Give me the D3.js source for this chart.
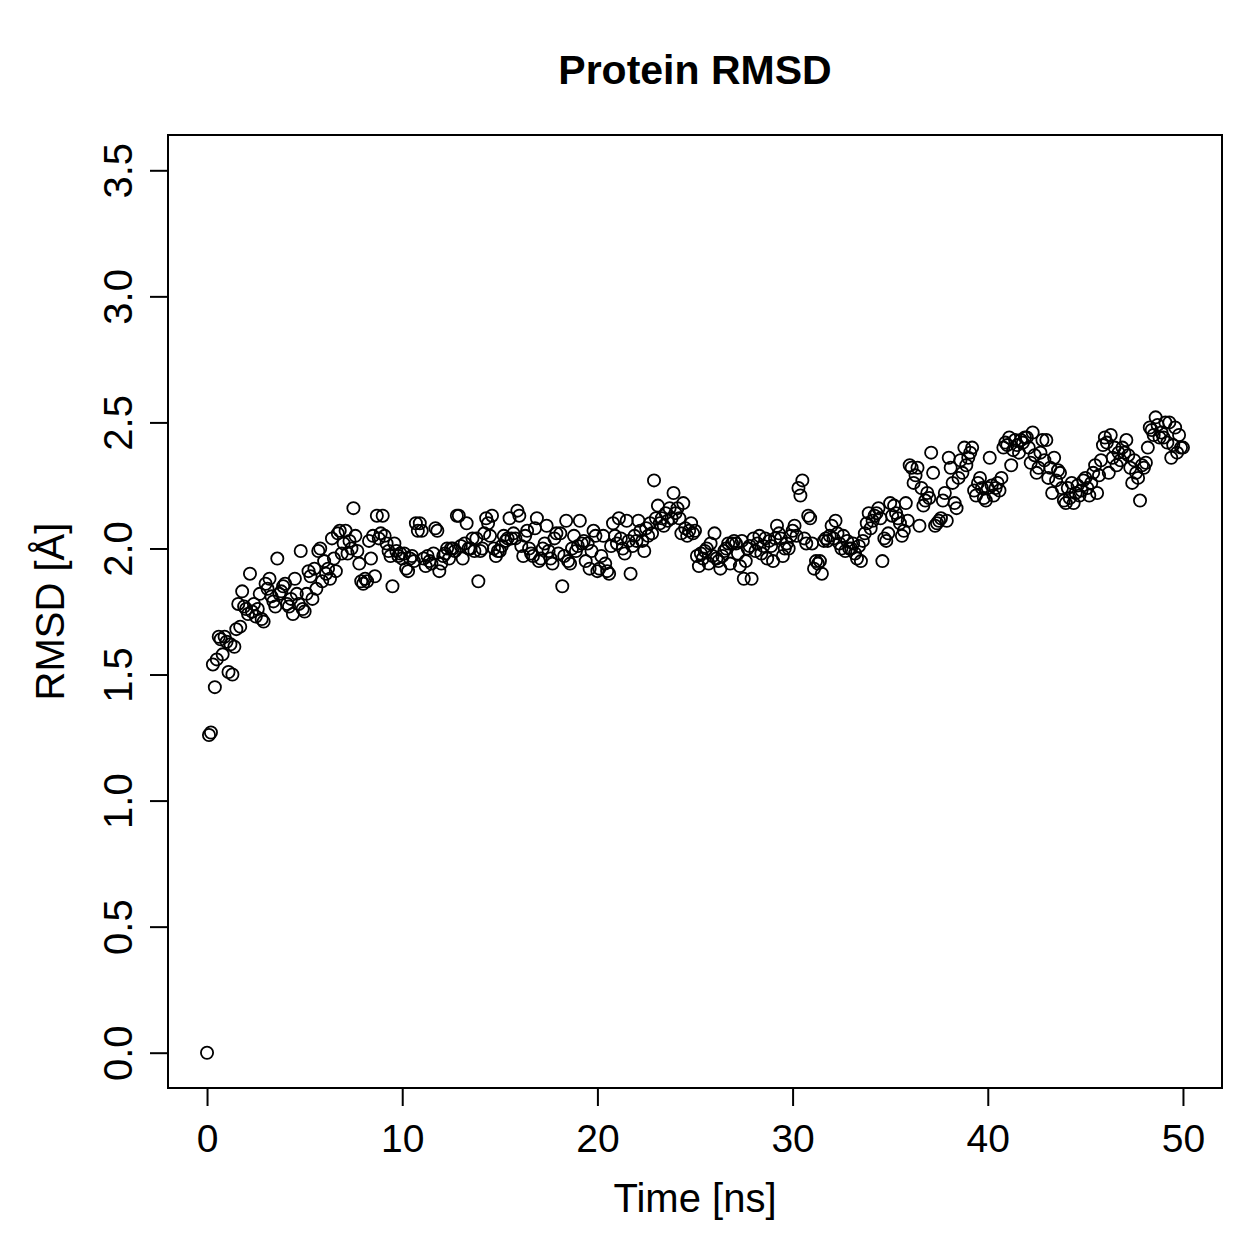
<!DOCTYPE html>
<meta charset="utf-8">
<style>
body { margin: 0; background: #fff; }
svg { display: block; }
text { font-family: "Liberation Sans", Arial, sans-serif; fill: #000; }
.axis path, .axis line { stroke: #000; stroke-width: 2px; }
.pt { fill: none; stroke: #000; stroke-width: 1.8px; }
</style>
<svg width="1259" height="1259"></svg>
<script src="https://d3js.org/d3.v7.min.js"></script>
<script>

// RMSD sampled every 0.1 ns, one row per ns (t = k.0 ... k.9), plus t = 50.0
var rmsdRows = [
  [0.00, 1.26, 1.27, 1.54, 1.45, 1.56, 1.65, 1.64, 1.58, 1.65],
  [1.63, 1.51, 1.62, 1.50, 1.61, 1.68, 1.78, 1.69, 1.83, 1.77],
  [1.76, 1.74, 1.90, 1.75, 1.78, 1.73, 1.76, 1.82, 1.72, 1.71],
  [1.86, 1.84, 1.88, 1.81, 1.79, 1.77, 1.96, 1.82, 1.83, 1.85],
  [1.86, 1.78, 1.77, 1.80, 1.74, 1.88, 1.82, 1.78, 1.99, 1.76],
  [1.75, 1.82, 1.91, 1.89, 1.80, 1.92, 1.84, 1.99, 2.00, 1.87],
  [1.95, 1.90, 1.92, 1.88, 2.04, 1.96, 1.91, 2.06, 2.07, 1.98],
  [2.02, 2.07, 1.98, 2.03, 2.00, 2.16, 2.05, 1.99, 1.94, 1.87],
  [1.86, 1.88, 1.87, 2.03, 1.96, 2.05, 1.89, 2.13, 2.04, 2.06],
  [2.13, 2.05, 2.02, 1.99, 1.97, 1.85, 2.02, 1.99, 1.97, 1.98],
  [1.96, 1.98, 1.92, 1.91, 1.96, 1.97, 1.95, 2.10, 2.07, 2.10],
  [2.07, 1.96, 1.93, 1.97, 1.95, 1.94, 1.98, 2.08, 2.07, 1.91],
  [1.94, 1.97, 1.98, 2.00, 1.96, 2.00, 2.00, 1.99, 2.13, 2.13],
  [2.01, 1.96, 2.02, 2.10, 2.00, 2.00, 2.04, 1.99, 2.04, 1.87],
  [1.99, 2.00, 2.06, 2.12, 2.10, 2.05, 2.13, 2.00, 1.97, 1.99],
  [1.99, 2.01, 2.05, 2.03, 2.04, 2.12, 2.04, 2.06, 2.04, 2.15],
  [2.13, 2.01, 1.97, 2.05, 2.07, 2.00, 1.98, 1.97, 2.08, 2.12],
  [1.95, 1.96, 2.00, 2.02, 2.09, 1.99, 1.96, 1.94, 2.04, 2.06],
  [1.98, 2.06, 1.85, 1.97, 2.11, 1.95, 1.94, 2.00, 2.05, 1.99],
  [2.01, 2.11, 2.02, 2.03, 1.95, 2.02, 1.92, 1.99, 2.07, 2.05],
  [1.91, 1.92, 1.97, 2.05, 1.94, 1.91, 1.90, 2.01, 2.10, 2.05],
  [2.02, 2.12, 2.04, 2.00, 1.98, 2.11, 2.03, 1.90, 2.01, 2.05],
  [2.03, 2.11, 2.07, 2.03, 1.99, 2.08, 2.05, 2.10, 2.06, 2.27],
  [2.12, 2.17, 2.10, 2.12, 2.09, 2.14, 2.11, 2.16, 2.12, 2.22],
  [2.14, 2.16, 2.12, 2.06, 2.18, 2.08, 2.05, 2.07, 2.10, 2.06],
  [2.07, 1.97, 1.93, 1.98, 1.96, 1.99, 2.00, 1.94, 2.02, 1.97],
  [2.06, 1.96, 1.95, 1.92, 1.97, 1.99, 2.00, 2.02, 1.94, 2.02],
  [2.03, 2.02, 1.98, 1.93, 2.03, 1.88, 1.95, 2.00, 2.01, 1.88],
  [2.04, 1.99, 2.02, 2.05, 1.98, 2.01, 2.04, 1.96, 2.03, 2.01],
  [1.95, 2.04, 2.09, 2.06, 2.04, 1.97, 2.00, 2.02, 2.00, 2.05],
  [2.07, 2.09, 2.05, 2.24, 2.21, 2.27, 2.04, 2.02, 2.13, 2.12],
  [2.02, 1.92, 1.95, 1.94, 1.95, 1.90, 2.03, 2.04, 2.03, 2.05],
  [2.09, 2.04, 2.11, 2.06, 2.02, 2.00, 2.05, 1.99, 2.03, 2.00],
  [2.00, 2.02, 1.98, 1.96, 2.01, 1.95, 2.03, 2.06, 2.10, 2.14],
  [2.08, 2.11, 2.13, 2.14, 2.16, 2.12, 1.95, 2.04, 2.03, 2.06],
  [2.18, 2.13, 2.17, 2.14, 2.12, 2.10, 2.05, 2.07, 2.18, 2.11],
  [2.33, 2.32, 2.26, 2.29, 2.32, 2.09, 2.24, 2.17, 2.19, 2.22],
  [2.20, 2.38, 2.30, 2.09, 2.10, 2.11, 2.12, 2.19, 2.22, 2.11],
  [2.36, 2.32, 2.26, 2.18, 2.16, 2.28, 2.35, 2.30, 2.40, 2.33],
  [2.36, 2.38, 2.40, 2.23, 2.21, 2.26, 2.28, 2.24, 2.20, 2.19],
  [2.24, 2.36, 2.25, 2.21, 2.24, 2.26, 2.23, 2.28, 2.40, 2.42],
  [2.41, 2.44, 2.33, 2.39, 2.43, 2.41, 2.38, 2.43, 2.42, 2.44],
  [2.44, 2.40, 2.34, 2.46, 2.37, 2.30, 2.32, 2.38, 2.43, 2.35],
  [2.43, 2.28, 2.32, 2.22, 2.36, 2.27, 2.31, 2.30, 2.24, 2.19],
  [2.18, 2.24, 2.20, 2.26, 2.18, 2.22, 2.25, 2.21, 2.23, 2.27],
  [2.28, 2.24, 2.21, 2.26, 2.30, 2.33, 2.22, 2.29, 2.35, 2.41],
  [2.44, 2.42, 2.30, 2.45, 2.36, 2.40, 2.33, 2.38, 2.35, 2.40],
  [2.38, 2.43, 2.37, 2.32, 2.26, 2.35, 2.30, 2.28, 2.19, 2.33],
  [2.32, 2.34, 2.40, 2.48, 2.47, 2.45, 2.52, 2.49, 2.44, 2.46],
  [2.44, 2.50, 2.42, 2.50, 2.36, 2.41, 2.48, 2.38, 2.45, 2.40]
];
var rmsdLast = 2.40;
var timeStep = 0.1;

var xTicks = [0, 10, 20, 30, 40, 50];
var yTicks = [0.0, 0.5, 1.0, 1.5, 2.0, 2.5, 3.0, 3.5];
var xLim = [0, 50], yLim = [0, 3.5];

var titleText = "Protein RMSD",
    xLabel = "Time [ns]",
    yLabel = "RMSD [Å]";

// flatten rows into points
var data = [];
rmsdRows.forEach(function(row, k) {
  row.forEach(function(v, j) {
    data.push({t: +(k + j * timeStep).toFixed(1), rmsd: v});
  });
});
data.push({t: 50, rmsd: rmsdLast});

var svg = d3.select("svg"),
    box = {left: 168, right: 1222, top: 135, bottom: 1088};

// R style 4% axis extension
function ext(lim) { var d = (lim[1] - lim[0]) * 0.04; return [lim[0] - d, lim[1] + d]; }

var x = d3.scaleLinear().domain(ext(xLim)).range([box.left, box.right]),
    y = d3.scaleLinear().domain(ext(yLim)).range([box.bottom, box.top]);

// plot box
svg.append("rect")
    .attr("x", box.left).attr("y", box.top)
    .attr("width", box.right - box.left).attr("height", box.bottom - box.top)
    .attr("fill", "none").attr("stroke", "#000").attr("stroke-width", 2);

// x axis
var gx = svg.append("g")
    .attr("class", "axis")
    .attr("transform", "translate(0," + box.bottom + ")")
    .call(d3.axisBottom(x).tickValues(xTicks).tickSize(18).tickSizeOuter(0).tickFormat(d3.format("d")));
gx.select(".domain").attr("d", "M" + x(xTicks[0]) + ",0H" + x(xTicks[xTicks.length - 1]));
gx.selectAll("text")
    .attr("y", 64).attr("dy", 0)
    .style("font-size", "39px");

// y axis
var gy = svg.append("g")
    .attr("class", "axis")
    .attr("transform", "translate(" + box.left + ",0)")
    .call(d3.axisLeft(y).tickValues(yTicks).tickSize(18).tickSizeOuter(0).tickFormat(d3.format(".1f")));
gy.select(".domain").attr("d", "M0," + y(yTicks[0]) + "V" + y(yTicks[yTicks.length - 1]));
gy.selectAll("text")
    .attr("x", 0).attr("y", 0).attr("dy", 0)
    .attr("text-anchor", "middle")
    .attr("transform", "translate(-36,0) rotate(-90)")
    .style("font-size", "40px");
svg.selectAll(".axis").attr("font-family", null).attr("font-size", null);

// points
svg.append("g").selectAll("circle")
    .data(data)
  .enter().append("circle")
    .attr("class", "pt")
    .attr("cx", function(d) { return x(d.t); })
    .attr("cy", function(d) { return y(d.rmsd); })
    .attr("r", 6.1);

// labels
svg.append("text")
    .attr("x", (box.left + box.right) / 2).attr("y", 84)
    .attr("text-anchor", "middle")
    .style("font-size", "41px").style("font-weight", "bold")
    .text(titleText);

svg.append("text")
    .attr("x", (box.left + box.right) / 2).attr("y", 1212)
    .attr("text-anchor", "middle")
    .style("font-size", "40px")
    .text(xLabel);

svg.append("text")
    .attr("transform", "translate(64," + (box.top + box.bottom) / 2 + ") rotate(-90)")
    .attr("text-anchor", "middle")
    .style("font-size", "40px")
    .text(yLabel);

</script>
